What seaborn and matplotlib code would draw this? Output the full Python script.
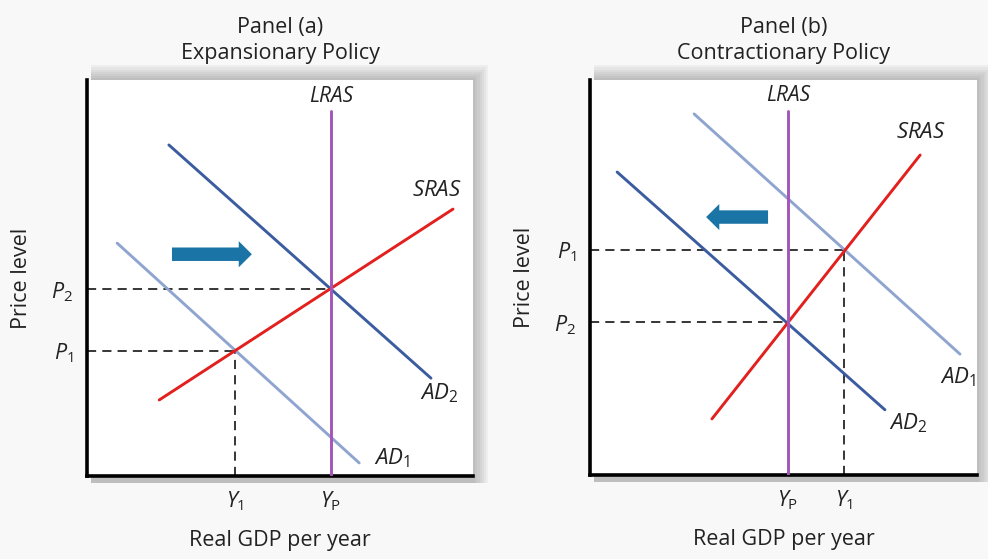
import matplotlib
matplotlib.use("Agg")
import matplotlib.pyplot as plt
import matplotlib.patches as mpatches
import seaborn as sns

sns.set_style("white")
plt.rcParams['font.family'] = ['Open Sans', 'DejaVu Sans']
plt.rcParams['mathtext.fontset'] = 'custom'
plt.rcParams['mathtext.it'] = 'Open Sans:italic'
plt.rcParams['mathtext.rm'] = 'Open Sans'

# curves: (x_start, x_end), (y_start, y_end) in a 0-100 box
# panel (a) expansionary
a_lras_x = [63.2, 63.2]
a_lras_y = [0, 92.2]
a_ad1_x = [7.8, 70.5]
a_ad1_y = [58.8, 3.3]
a_ad2_x = [21.2, 89.1]
a_ad2_y = [83.6, 24.7]
a_sras_x = [18.7, 94.8]
a_sras_y = [19.2, 67.4]
a_p = {"$P_2$": 47.2, "$P_1$": 31.6}
a_y = {"$Y_1$": 38.3, "$Y_{\\rm P}$": 63.2}
a_arrow = [22.0, 42.7, 56.0]

# panel (b) contractionary
b_lras_x = [51.1, 51.1]
b_lras_y = [0, 92.2]
b_ad1_x = [26.9, 95.6]
b_ad1_y = [91.4, 30.6]
b_ad2_x = [7.0, 76.2]
b_ad2_y = [76.7, 16.5]
b_sras_x = [31.5, 85.3]
b_sras_y = [14.2, 81.0]
b_p = {"$P_1$": 57.0, "$P_2$": 38.7}
b_y = {"$Y_{\\rm P}$": 51.1, "$Y_1$": 65.6}
b_arrow = [46.0, 30.0, 65.3]

C_LRAS = "#a455b8"
C_AD_DARK = "#3c5ca0"
C_AD_LIGHT = "#8fa5d0"
C_SRAS = "#e2201e"
C_ARROW = "#1a74a6"
BG = "#f8f8f8"

fig = plt.figure(figsize=(9.88, 5.59), dpi=100, facecolor=BG)

boxes = [[0.0881, 0.1485, 0.3907, 0.7084], [0.5972, 0.1503, 0.3917, 0.7066]]

def shadow(box):
    l, b, w, h = box
    for i in range(7):
        d = 0.0022 * (i + 1)
        r = mpatches.Rectangle((l + 0.004, b - 0.012), w - 0.004 + d, h + 0.012 + d * 1.7,
                               transform=fig.transFigure, facecolor="#444444", alpha=0.05,
                               edgecolor="none", zorder=-5)
        fig.patches.append(r)

def line(ax, xs, ys, color):
    sns.lineplot(x=xs, y=ys, ax=ax, color=color, lw=2.1, estimator=None, sort=False,
                 errorbar=None, zorder=3)

def panel(box, title, lras, ad1, ad2, sras, pticks, yticks, arrow, dashes, lbl):
    shadow(box)
    ax = fig.add_axes(box)
    ax.set_zorder(2)
    ax.set_facecolor("white")
    ax.set_xlim(0, 100)
    ax.set_ylim(0, 100)
    for s in ["top", "right"]:
        ax.spines[s].set_visible(False)
    for s in ["left", "bottom"]:
        ax.spines[s].set_linewidth(2.6)
        ax.spines[s].set_color("black")
    for (dx, dy) in dashes:
        ax.plot(dx, dy, color="black", lw=1.1, ls=(0, (6, 4)), zorder=1)
    line(ax, ad1[0], ad1[1], C_AD_LIGHT)
    line(ax, ad2[0], ad2[1], C_AD_DARK)
    line(ax, sras[0], sras[1], C_SRAS)
    line(ax, lras[0], lras[1], C_LRAS)
    x0, x1, ay = arrow
    ax.arrow(x0, ay, x1 - x0, 0, width=3.4, head_width=6.6, head_length=3.4,
             length_includes_head=True, color=C_ARROW, lw=0, zorder=4)
    ax.set_xticks(list(yticks.values()))
    ax.set_xticklabels(list(yticks.keys()), fontsize=15.5)
    ax.set_yticks(list(pticks.values()))
    ax.set_yticklabels(list(pticks.keys()), fontsize=15.5)
    ax.tick_params(length=0, pad=10, colors="#222222")
    ax.set_xlabel("Real GDP per year", fontsize=15.5, labelpad=12, color="#222222")
    ax.set_ylabel("Price level", fontsize=15.5, labelpad=14, color="#222222")
    ax.set_title(title, fontsize=15.5, pad=15, linespacing=1.3, color="#222222")
    ax.text(lras[0][0], 93.3, "LRAS", style="italic", fontsize=15, ha="center", va="bottom",
            color="#222222")
    for (tx, ty, t) in lbl:
        ax.text(tx, ty, t, fontsize=16, ha="center", va="center", color="#222222")
    return ax

panel(boxes[0], "Panel (a)\nExpansionary Policy",
      (a_lras_x, a_lras_y), (a_ad1_x, a_ad1_y), (a_ad2_x, a_ad2_y), (a_sras_x, a_sras_y),
      a_p, a_y, a_arrow,
      [([0, a_y["$Y_{\\rm P}$"]], [a_p["$P_2$"]] * 2),
       ([0, a_y["$Y_1$"]], [a_p["$P_1$"]] * 2),
       ([a_y["$Y_1$"]] * 2, [0, a_p["$P_1$"]])],
      [(90.7, 72, "$\\mathit{SRAS}$"), (91.2, 21, "$AD_2$"), (79, 4.5, "$AD_1$")])

panel(boxes[1], "Panel (b)\nContractionary Policy",
      (b_lras_x, b_lras_y), (b_ad1_x, b_ad1_y), (b_ad2_x, b_ad2_y), (b_sras_x, b_sras_y),
      b_p, b_y, b_arrow,
      [([0, b_y["$Y_1$"]], [b_p["$P_1$"]] * 2),
       ([0, b_y["$Y_{\\rm P}$"]], [b_p["$P_2$"]] * 2),
       ([b_y["$Y_1$"]] * 2, [0, b_p["$P_1$"]])],
      [(85.5, 86.6, "$\\mathit{SRAS}$"), (95.1, 24.8, "$AD_1$"), (82.2, 13.2, "$AD_2$")])

fig.savefig("out.png", dpi=100, facecolor=BG)
